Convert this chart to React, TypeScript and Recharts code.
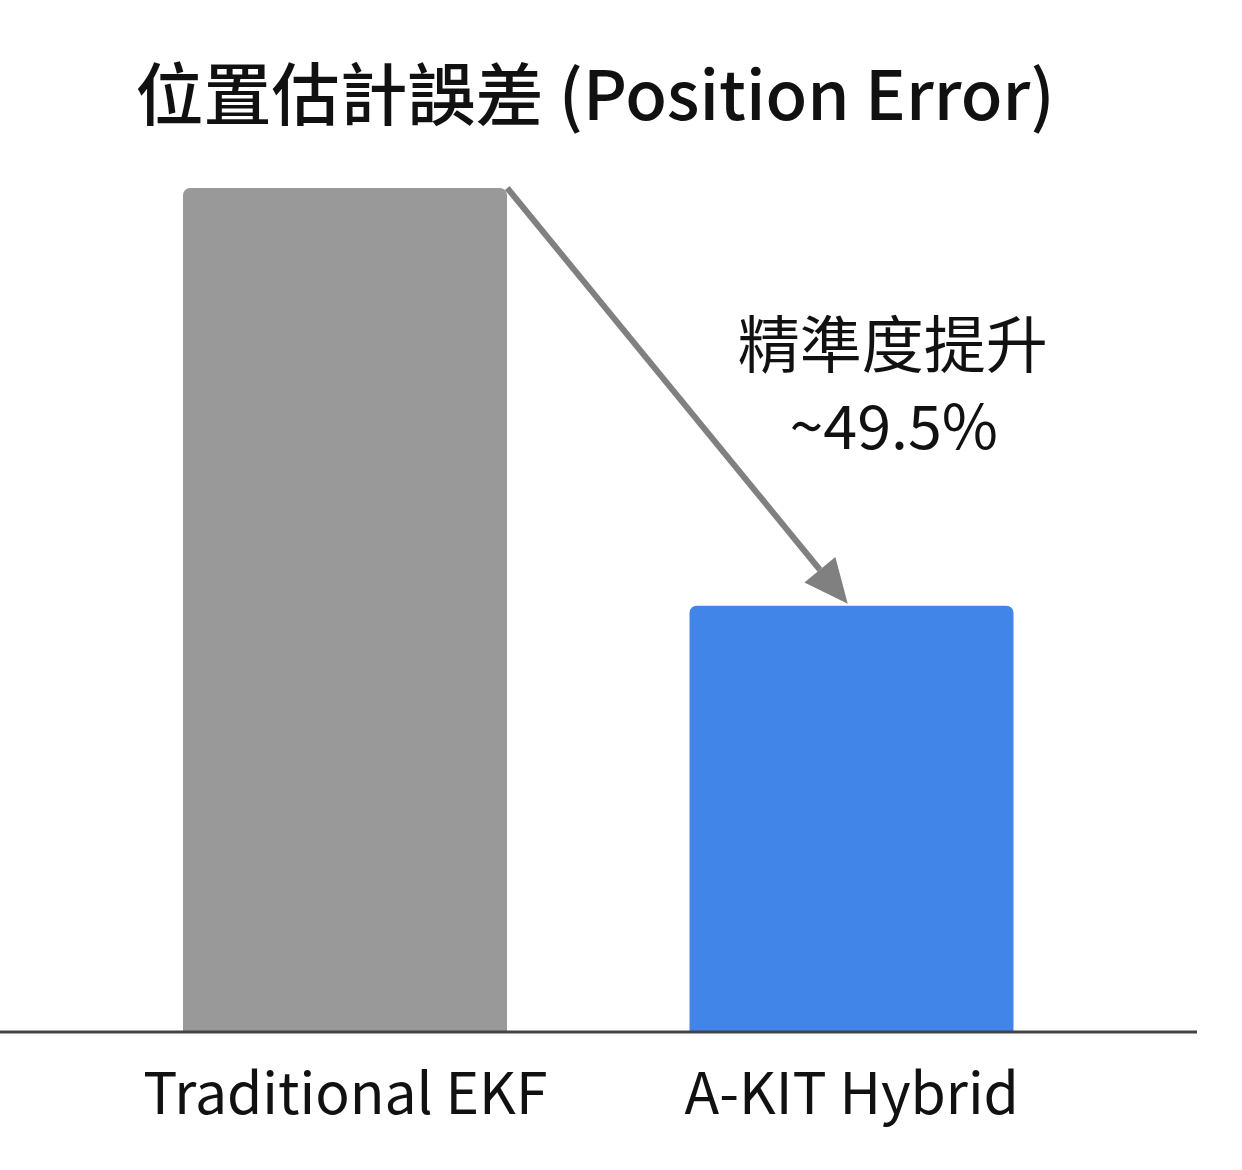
import React from "react";
import { BarChart, Bar, XAxis, YAxis, Cell, ReferenceLine } from "recharts";

const categories = ["Traditional EKF", "A-KIT Hybrid"];
const errorValues = [100, 50.5];
const barColors = ["#999999", "#4285e9"];
const titleText = "位置估計誤差 (Position Error)";
const noteLines = ["精準度提升", "~49.5%"];

const data = categories.map((name, i) => ({ name, value: errorValues[i] }));

const FONT = "'Noto Sans CJK TC', 'Noto Sans', sans-serif";
const BAR_SIZE = 324;

// arrow from the right edge of the first bar to the top of the second
function Arrow(props: any) {
  const { x1, y1, x2, y2 } = props;
  const sx = x1 + BAR_SIZE / 2;
  const ex = x2 - 4;
  const ey = y2 - 2;
  const ang = Math.atan2(ey - y1, ex - sx);
  const len = 44;
  const half = 20;
  const bx = ex - len * Math.cos(ang);
  const by = ey - len * Math.sin(ang);
  const px = -Math.sin(ang) * half;
  const py = Math.cos(ang) * half;
  return (
    <g>
      <line x1={sx} y1={y1} x2={bx} y2={by} stroke="#808080" strokeWidth={6} />
      <polygon
        points={`${ex},${ey} ${bx + px},${by + py} ${bx - px},${by - py}`}
        fill="#808080"
      />
      <text x={x2 + 41} y={y2 - 238} textAnchor="middle" fontSize={62} fill="#111" fontFamily={FONT}>
        {noteLines[0]}
      </text>
      <text x={x2 + 42} y={y2 - 157} textAnchor="middle" fontSize={61} fill="#111" fontFamily={FONT}>
        {noteLines[1]}
      </text>
    </g>
  );
}

export default function App() {
  return (
    <div style={{ position: "absolute", left: 0, top: 0, width: 1242, height: 1170, background: "#fff", fontFamily: FONT }}>
      <div
        style={{
          position: "absolute",
          left: 0,
          width: 1190,
          top: 47,
          textAlign: "center",
          fontSize: 68,
          fontWeight: 500,
          lineHeight: "88px",
          color: "#111",
        }}
      >
        {titleText}
      </div>
      <BarChart
        width={1242}
        height={1170}
        data={data}
        margin={{ top: 188, right: 45, left: 0, bottom: 0 }}
      >
        <XAxis
          dataKey="name"
          padding={{ left: 92, right: 92 }}
          height={138}
          axisLine={{ stroke: "#444", strokeWidth: 3 }}
          tickLine={false}
          tick={{ fill: "#111", fontSize: 57, fontFamily: FONT, dy: 34 }}
          interval={0}
        />
        <YAxis hide domain={[0, 100]} />
        <Bar dataKey="value" barSize={BAR_SIZE} radius={[7, 7, 0, 0]} isAnimationActive={false}>
          {data.map((d, i) => (
            <Cell key={d.name} fill={barColors[i]} />
          ))}
        </Bar>
        <ReferenceLine
          segment={[
            { x: categories[0], y: errorValues[0] },
            { x: categories[1], y: errorValues[1] },
          ]}
          shape={(p: any) => <Arrow {...p} />}
          ifOverflow="visible"
        />
      </BarChart>
    </div>
  );
}
